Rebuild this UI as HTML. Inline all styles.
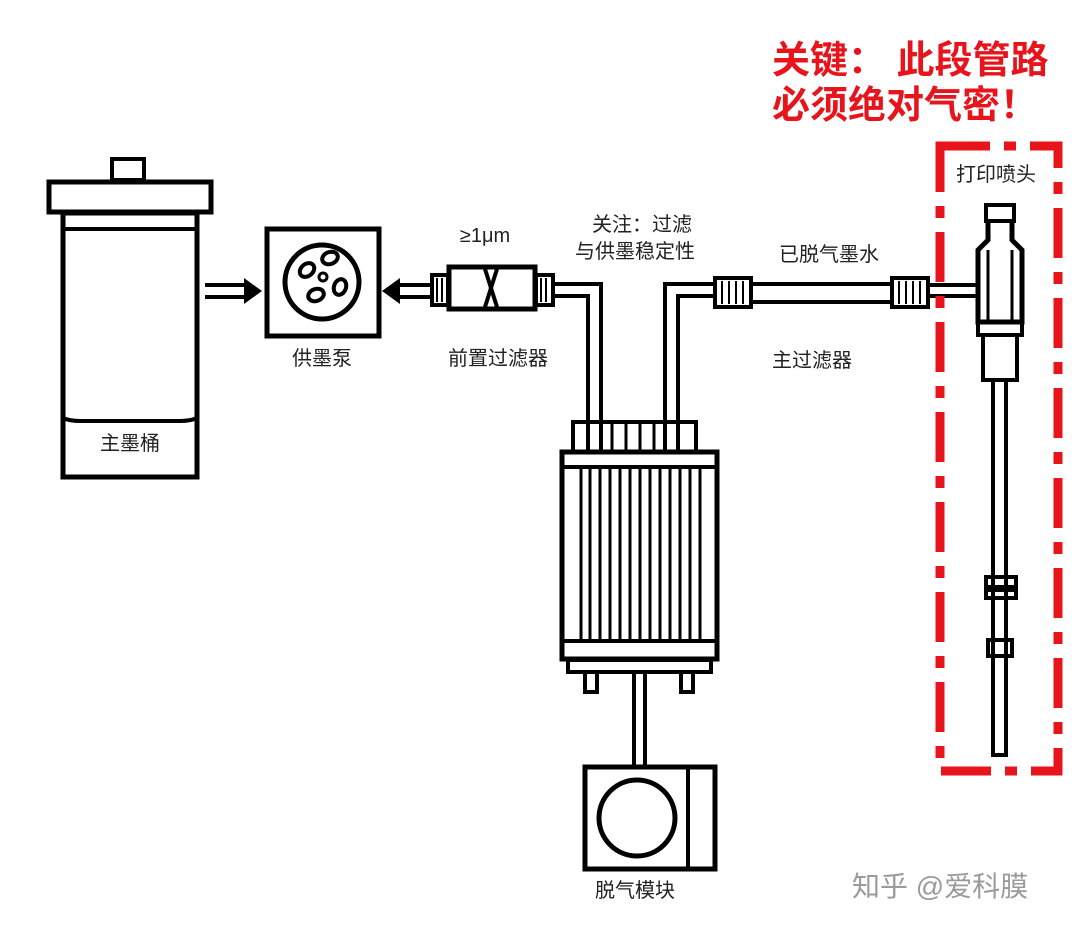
<!DOCTYPE html>
<html><head><meta charset="utf-8"><style>
html,body{margin:0;padding:0;background:#fff;}
svg{display:block;}
text{font-family:"Liberation Sans","Noto Sans CJK SC",sans-serif;}
</style></head><body>
<svg width="1080" height="930" viewBox="0 0 1080 930" xmlns="http://www.w3.org/2000/svg">
<rect width="1080" height="930" fill="#fff"/>
<g fill="none" stroke="#000" stroke-width="5">
<rect x="112" y="159" width="32" height="21" stroke-width="4"/>
<rect x="49" y="182" width="162" height="30"/>
<rect x="63" y="213" width="134" height="264"/>
<line x1="63" y1="229" x2="197" y2="229" stroke-width="4"/>
<path d="M63 418 Q70 421 80 421 L180 421 Q190 421 197 418" stroke-width="4"/>
<line x1="205" y1="285" x2="248" y2="285" stroke-width="4"/>
<line x1="205" y1="297" x2="248" y2="297" stroke-width="4"/>
<rect x="267" y="229" width="112" height="107"/>
<circle cx="322" cy="282" r="37"/>
<ellipse cx="307" cy="270" rx="8" ry="6" transform="rotate(-40 307 270)" stroke-width="4"/>
<ellipse cx="330" cy="258" rx="8" ry="6" transform="rotate(-20 330 258)" stroke-width="4"/>
<ellipse cx="323" cy="277" rx="4" ry="4" stroke-width="3"/>
<ellipse cx="340" cy="287" rx="6" ry="8" transform="rotate(20 340 287)" stroke-width="4"/>
<ellipse cx="316" cy="295" rx="8" ry="6" transform="rotate(-20 316 295)" stroke-width="4"/>
<line x1="395" y1="285" x2="432" y2="285" stroke-width="4"/>
<line x1="395" y1="297" x2="432" y2="297" stroke-width="4"/>
<rect x="432" y="275" width="16" height="30" stroke-width="4"/>
<rect x="449" y="267" width="86" height="42"/>
<path d="M485 269 L497 307 M497 269 L485 307" stroke-width="4"/>
<rect x="536" y="275" width="17" height="30" stroke-width="4"/>
<path d="M553 284 L601 284 L601 452" stroke-width="4"/>
<path d="M553 296 L588 296 L588 452" stroke-width="4"/>
<path d="M715 284 L665 284 L665 452" stroke-width="4"/>
<path d="M715 296 L678 296 L678 452" stroke-width="4"/>
<rect x="573" y="422" width="123" height="30" stroke-width="4"/>
<rect x="562" y="452" width="155" height="207"/>
<line x1="562" y1="467" x2="717" y2="467" stroke-width="4"/>
<line x1="562" y1="641" x2="717" y2="641" stroke-width="4"/>
<rect x="568" y="660" width="143" height="12" stroke-width="4"/>
<rect x="585" y="672" width="12" height="20" stroke-width="4"/>
<rect x="681" y="672" width="12" height="20" stroke-width="4"/>
<line x1="634" y1="672" x2="634" y2="766" stroke-width="4"/>
<line x1="645" y1="672" x2="645" y2="766" stroke-width="4"/>
<rect x="585" y="767" width="130" height="102"/>
<line x1="688" y1="767" x2="688" y2="869" stroke-width="4"/>
<circle cx="637" cy="818" r="38"/>
<rect x="715" y="278" width="36" height="29" stroke-width="4"/>
<line x1="751" y1="284" x2="892" y2="284" stroke-width="4"/>
<line x1="751" y1="302" x2="892" y2="302" stroke-width="4"/>
<rect x="892" y="278" width="36" height="29" stroke-width="4"/>
<line x1="928" y1="285" x2="977" y2="285" stroke-width="4"/>
<line x1="928" y1="296" x2="977" y2="296" stroke-width="4"/>
<rect x="986" y="205" width="28" height="16" stroke-width="4"/>
<path d="M988 222 L988 240 L978 250 L978 322 L1022 322 L1022 250 L1012 240 L1012 222" stroke-width="5"/>
<line x1="988" y1="250" x2="988" y2="320" stroke-width="3"/>
<line x1="1012" y1="250" x2="1012" y2="320" stroke-width="3"/>
<rect x="978" y="322" width="44" height="13" stroke-width="4"/>
<rect x="983" y="335" width="34" height="45" stroke-width="4"/>
<rect x="993" y="380" width="13" height="375" stroke-width="4"/>
<rect x="986" y="577" width="30" height="10" stroke-width="4"/>
<rect x="986" y="590" width="30" height="8" stroke-width="4"/>
<rect x="988" y="640" width="24" height="16" stroke-width="4"/>
</g>
<g fill="#000">
<polygon points="244,278 262,291 244,304"/>
<polygon points="400,278 382,291 400,304"/>
<g stroke="#000" stroke-width="2">
<line x1="437" y1="278" x2="437" y2="302"/><line x1="442" y1="278" x2="442" y2="302"/>
<line x1="541" y1="278" x2="541" y2="302"/><line x1="546" y1="278" x2="546" y2="302"/>
<line x1="722" y1="281" x2="722" y2="304"/><line x1="729" y1="281" x2="729" y2="304"/><line x1="736" y1="281" x2="736" y2="304"/><line x1="743" y1="281" x2="743" y2="304"/>
<line x1="899" y1="281" x2="899" y2="304"/><line x1="906" y1="281" x2="906" y2="304"/><line x1="913" y1="281" x2="913" y2="304"/><line x1="920" y1="281" x2="920" y2="304"/>
</g>
<g stroke="#000" stroke-width="3">
<line x1="612" y1="422" x2="612" y2="452"/><line x1="626" y1="422" x2="626" y2="452"/><line x1="640" y1="422" x2="640" y2="452"/><line x1="654" y1="422" x2="654" y2="452"/>
</g>
<g stroke="#000" stroke-width="3">
<line x1="581" y1="467" x2="581" y2="641"/><line x1="590" y1="467" x2="590" y2="641"/><line x1="600" y1="467" x2="600" y2="641"/><line x1="610" y1="467" x2="610" y2="641"/><line x1="620" y1="467" x2="620" y2="641"/><line x1="630" y1="467" x2="630" y2="641"/><line x1="640" y1="467" x2="640" y2="641"/><line x1="650" y1="467" x2="650" y2="641"/><line x1="660" y1="467" x2="660" y2="641"/><line x1="670" y1="467" x2="670" y2="641"/><line x1="680" y1="467" x2="680" y2="641"/><line x1="690" y1="467" x2="690" y2="641"/><line x1="700" y1="467" x2="700" y2="641"/>
</g>
</g>
<rect x="940" y="146" width="118" height="625" fill="none" stroke="#e8141c" stroke-width="9" stroke-dasharray="50,14,12,14"/>
<g font-size="20" fill="#222" text-anchor="middle">
<text x="130" y="450">主墨桶</text>
<text x="322" y="365">供墨泵</text>
<text x="485" y="242">≥1μm</text>
<text x="642" y="231">关注：过滤</text>
<text x="635" y="258">与供墨稳定性</text>
<text x="498" y="365">前置过滤器</text>
<text x="829" y="261">已脱气墨水</text>
<text x="812" y="367">主过滤器</text>
<text x="996" y="181">打印喷头</text>
<text x="635" y="897">脱气模块</text>
</g>
<g font-size="38" fill="#e8141c" font-weight="bold">
<text x="772" y="73">关键： 此段管路</text>
<text x="772" y="118">必须绝对气密！</text>
</g>
<text x="852" y="896" font-size="28" fill="#9a9a9a">知乎 @爱科膜</text>
</svg>
</body></html>
